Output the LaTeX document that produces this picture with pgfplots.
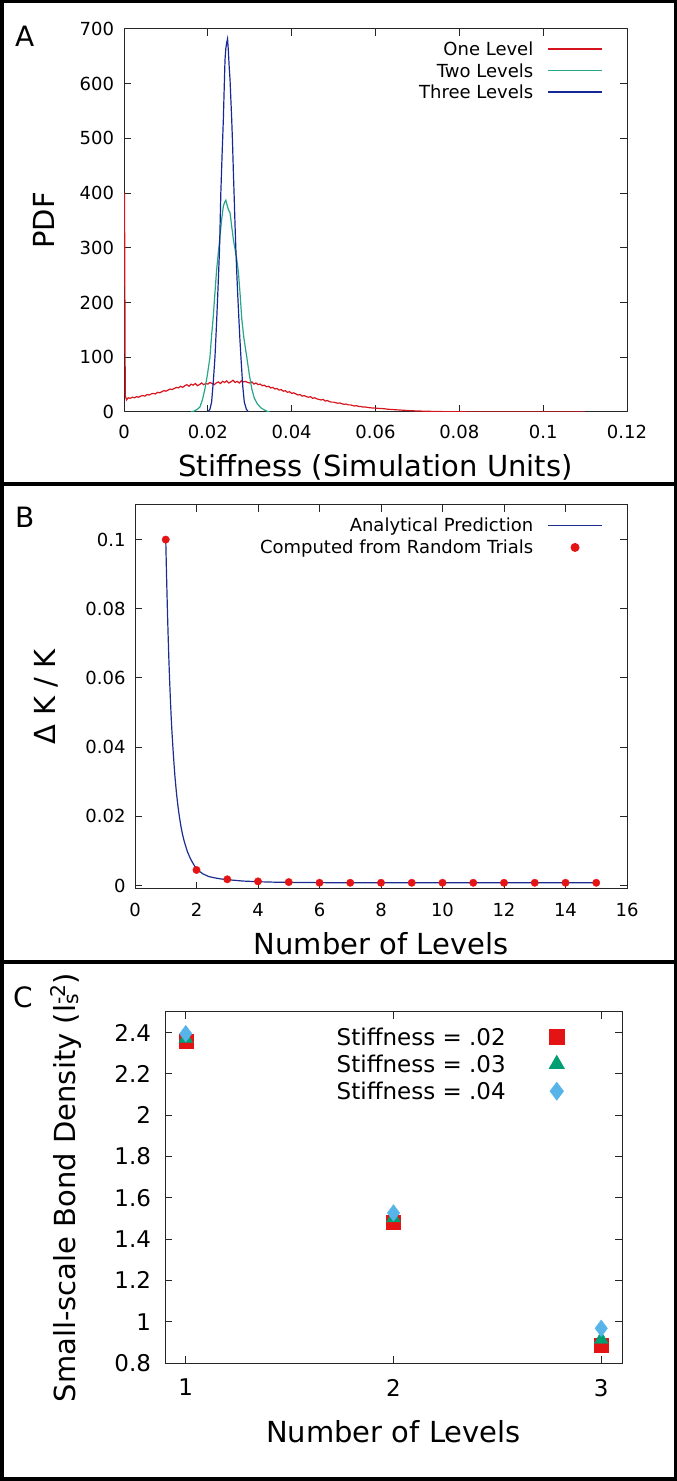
\documentclass[border=0pt]{standalone}
\usepackage{fontspec}
\setmainfont{DejaVu Sans}
\usepackage{pgfplots}
\pgfplotsset{compat=1.18}
\definecolor{aRed}{RGB}{215,20,30}
\definecolor{aGreen}{RGB}{38,166,134}
\definecolor{aBlue}{RGB}{22,40,150}
\definecolor{bBlue}{RGB}{28,45,143}
\definecolor{cRed}{RGB}{229,20,20}
\definecolor{cGreen}{RGB}{0,158,115}
\definecolor{cBlue}{RGB}{86,180,233}
\pgfplotsset{
  legend image code/.code={\draw[mark repeat=2,mark phase=2,#1,line width=1.5pt] plot coordinates {(0pt,0pt) (27pt,0pt) (54pt,0pt)};},
  base/.style={
    scale only axis, anchor=south west,
    axis line style={line width=1pt, black!85},
    major tick style={line width=1pt, black!85},
    major tick length=7pt, tick align=inside,
    scaled ticks=false,
    legend plot pos=right,
    legend cell align=right,
  },
}
\begin{document}
\begin{tikzpicture}
\useasboundingbox (0pt,0pt) rectangle (677pt,1481pt);
% ---------------- Panel A ----------------
\begin{axis}[base,
  at={(124pt,1069pt)}, width=503pt, height=383pt,
  xmin=0, xmax=0.12, ymin=0, ymax=700,
  xtick={0,0.02,0.04,0.06,0.08,0.1,0.12},
  xticklabels={0,0.02,0.04,0.06,0.08,0.1,0.12},
  ytick={0,100,200,300,400,500,600,700},
  yticklabels={0,100,200,300,400,500,600,700},
  tick label style={font=\fontsize{18}{20}\selectfont},
  xticklabel style={yshift=-10pt},
  yticklabel style={xshift=-6.5pt},
  xlabel={Stiffness (Simulation Units)},
  ylabel={PDF},
  label style={font=\fontsize{29}{33}\selectfont},
  xlabel style={at={(axis description cs:0.5,-0.1697)}, anchor=base},
  ylabel style={at={(axis description cs:-0.1372,0.5)}, anchor=base},
  legend style={at={(axis description cs:0.9523,0.9758)}, anchor=north east,
    draw=none, fill=none, inner sep=0pt, column sep=14pt, row sep=0pt,
    font=\fontsize{18}{21}\selectfont,
    nodes={inner sep=0pt, text height=17.3pt, text depth=4.2pt}},
]
\addplot[color=aRed, line width=1.2pt] coordinates {
(0.00012,400) (0.0003,30) (0.0006,22) (0.001,26) (0.0015,25) (0.002,27) (0.0025,26) (0.003,28) (0.0035,27) (0.004,29)
(0.0045,30) (0.005,29) (0.0055,32) (0.006,31) (0.0065,33) (0.007,34) (0.0075,33) (0.008,36) (0.0085,35) (0.009,37)
(0.0095,39) (0.010,38) (0.0105,40) (0.011,42) (0.0115,41) (0.012,43) (0.0125,45) (0.013,44) (0.0135,47) (0.014,45)
(0.0145,48) (0.015,50) (0.0155,47) (0.016,51) (0.0165,49) (0.017,52) (0.0175,48) (0.018,50) (0.0185,53) (0.019,50)
(0.0195,52) (0.020,51) (0.0205,54) (0.021,52) (0.0215,50) (0.022,53) (0.0225,55) (0.023,52) (0.0235,56) (0.024,54)
(0.0245,57) (0.025,53) (0.0255,55) (0.026,58) (0.0265,54) (0.027,56) (0.0275,53) (0.028,57) (0.0285,55) (0.029,56)
(0.0295,54) (0.030,53) (0.0305,55) (0.031,51) (0.0315,53) (0.032,50) (0.0325,51) (0.033,48) (0.0335,49) (0.034,46)
(0.0345,47) (0.035,44) (0.0355,45) (0.036,42) (0.0365,43) (0.037,40) (0.0375,41) (0.038,38) (0.0385,39) (0.039,36)
(0.0395,37) (0.040,34) (0.0405,35) (0.041,33) (0.0415,31) (0.042,32) (0.0425,29) (0.043,30) (0.0435,28) (0.044,27)
(0.0445,28) (0.045,25) (0.0455,26) (0.046,24) (0.0465,23) (0.047,22) (0.0475,23) (0.048,20) (0.0485,21) (0.049,19)
(0.0495,18) (0.050,18) (0.0505,17) (0.051,16) (0.0515,16.5) (0.052,15) (0.0525,14) (0.053,14.5) (0.0535,13) (0.054,13)
(0.0545,12) (0.055,11) (0.0555,11.5) (0.056,10) (0.0565,10) (0.057,9) (0.0575,9.2) (0.058,8.5) (0.059,7.5) (0.060,7)
(0.061,6.5) (0.062,6) (0.063,5) (0.064,4.5) (0.065,4) (0.066,3.5) (0.067,3) (0.068,2.5) (0.069,2.2) (0.070,1.8)
(0.072,1.4) (0.074,1) (0.076,0.7) (0.078,0.5) (0.080,0.3) (0.085,0.15) (0.090,0.1) (0.095,0.05) (0.100,0.02) (0.105,0.01) (0.110,0)
};
\addlegendentry{One Level}
\addplot[color=aGreen, line width=1.2pt] coordinates {
(0.0160,0) (0.0168,2) (0.0175,5) (0.0181,9) (0.0187,22) (0.0193,42) (0.0199,68) (0.0205,100) (0.0209,140) (0.0213,175)
(0.0217,218) (0.0221,260) (0.0225,291) (0.0229,321) (0.0233,352) (0.0237,376) (0.0240,383) (0.0243,387) (0.0246,378)
(0.0249,370) (0.0253,364) (0.0257,339) (0.0261,315) (0.0265,297) (0.0269,279) (0.0273,255) (0.0277,215) (0.0281,170)
(0.0286,135) (0.0293,100) (0.0299,68) (0.0305,42) (0.0311,25) (0.0318,15) (0.0326,8) (0.0334,4) (0.0342,1) (0.0348,0)
};
\addlegendentry{Two Levels}
\addplot[color=aBlue, line width=1.2pt] coordinates {
(0.0200,0) (0.0205,5) (0.0209,18) (0.0213,55) (0.0217,100) (0.0221,165) (0.0225,240) (0.0228,300) (0.0231,400)
(0.0234,470) (0.0237,534) (0.0239,590) (0.0241,644) (0.0243,665) (0.0245,675) (0.0247,682) (0.0249,660) (0.0251,630)
(0.0253,607) (0.0255,570) (0.0257,534) (0.0259,490) (0.0261,437) (0.0263,390) (0.0265,339) (0.0267,295) (0.0269,255)
(0.0271,220) (0.0273,187) (0.0276,140) (0.0279,100) (0.0283,50) (0.0287,18) (0.0292,5) (0.0297,0)
};
\addlegendentry{Three Levels}
\end{axis}
% ---------------- Panel B ----------------
\begin{axis}[base,
  at={(135pt,592pt)}, width=492pt, height=384pt,
  xmin=0, xmax=16, ymin=-0.001, ymax=0.11,
  xtick={0,2,4,6,8,10,12,14,16},
  xticklabels={0,2,4,6,8,10,12,14,16},
  ytick={0,0.02,0.04,0.06,0.08,0.1},
  yticklabels={0,0.02,0.04,0.06,0.08,0.1},
  tick label style={font=\fontsize{18}{20}\selectfont},
  xticklabel style={yshift=-11pt},
  yticklabel style={xshift=-6pt},
  xlabel={Number of Levels},
  ylabel={Δ K / K},
  label style={font=\fontsize{29}{33}\selectfont},
  xlabel style={at={(axis description cs:0.5,-0.1693)}, anchor=base},
  ylabel style={at={(axis description cs:-0.1626,0.5)}, anchor=base},
  legend style={at={(axis description cs:0.9512,0.9759)}, anchor=north east,
    draw=none, fill=none, inner sep=0pt, column sep=14pt, row sep=0pt,
    font=\fontsize{18}{21}\selectfont,
    nodes={inner sep=0pt, text height=17.5pt, text depth=4.5pt}},
]
\addplot[color=bBlue, line width=1.2pt] coordinates {
(1,0.1) (1.025,0.090) (1.05,0.081) (1.075,0.073) (1.1,0.0658) (1.125,0.0595) (1.15,0.054) (1.175,0.049) (1.2,0.0447)
(1.25,0.0375) (1.3,0.0314) (1.35,0.0266) (1.4,0.0227) (1.45,0.0195) (1.5,0.0168) (1.55,0.0146) (1.6,0.0128)
(1.7,0.0099) (1.8,0.0078) (1.9,0.0062) (2.0,0.0048) (2.2,0.0034) (2.4,0.0026) (2.6,0.0022) (2.8,0.0019) (3,0.0017)
(3.5,0.0013) (4,0.0011) (4.5,0.00098) (5,0.0009) (6,0.00084) (7,0.00081) (8,0.0008) (10,0.0008) (12,0.0008) (15,0.0008)
};
\addlegendentry{Analytical Prediction}
\addplot[only marks, mark=*, mark size=3.7pt, color=cRed] coordinates {
(1,0.1) (2,0.0045) (3,0.0018) (4,0.0012) (5,0.0010) (6,0.0008) (7,0.0008) (8,0.0008) (9,0.0008) (10,0.0008)
(11,0.0008) (12,0.0008) (13,0.0008) (14,0.0008) (15,0.0008)
};
\addlegendentry{Computed from Random Trials}
\end{axis}
% ---------------- Panel C ----------------
\begin{axis}[base,
  at={(165pt,118pt)}, width=457pt, height=351pt,
  xmin=0.9, xmax=3.1, ymin=0.8, ymax=2.5,
  xtick={1,2,3}, xticklabels={1,2,3},
  ytick={0.8,1,1.2,1.4,1.6,1.8,2,2.2,2.4},
  yticklabels={0.8,1,1.2,1.4,1.6,1.8,2,2.2,2.4},
  tick label style={font=\fontsize{23}{26}\selectfont},
  xticklabel style={yshift=-12.5pt},
  yticklabel style={xshift=-10.5pt},
  xlabel={Number of Levels},
  ylabel={Small-scale Bond Density (l\rlap{\textsubscript{s}}\textsuperscript{-2})},
  label style={font=\fontsize{29}{33}\selectfont},
  xlabel style={at={(axis description cs:0.5,-0.2251)}, anchor=base},
  ylabel style={at={(axis description cs:-0.1969,0.5)}, anchor=base},
  legend cell align=left,
  legend style={at={(axis description cs:0.873,0.9672)}, anchor=north east,
    draw=none, fill=none, inner sep=0pt, column sep=44pt, row sep=0pt,
    font=\fontsize{23}{27}\selectfont,
    nodes={inner sep=0pt, text height=21.9pt, text depth=5.1pt}},
]
\addplot[only marks, mark=square*, mark size=7pt, color=cRed] coordinates {(1,2.357) (2,1.484) (3,0.887)};
\addlegendentry{Stiffness = .02}
\addplot[only marks, mark=triangle*, mark size=8pt, color=cGreen] coordinates {(1,2.372) (2,1.503) (3,0.915)};
\addlegendentry{Stiffness = .03}
\addplot[only marks, mark=diamond*, mark size=8.3pt, color=cBlue] coordinates {(1,2.395) (2,1.527) (3,0.968)};
\addlegendentry{Stiffness = .04}
\end{axis}
% ---------------- Frames and panel letters ----------------
\draw[line width=3.5pt] (1.75pt,1.75pt) rectangle (675.25pt,1479.25pt);
\draw[line width=3.5pt] (0pt,997pt) -- (677pt,997pt);
\draw[line width=3.5pt] (0pt,519pt) -- (677pt,519pt);
\node[anchor=base west, inner sep=0pt, font=\fontsize{28}{30}\selectfont] at (15pt,1434pt) {A};
\node[anchor=base west, inner sep=0pt, font=\fontsize{28}{30}\selectfont] at (15pt,953pt) {B};
\node[anchor=base west, inner sep=0pt, font=\fontsize{28}{30}\selectfont] at (13pt,473pt) {C};
\end{tikzpicture}
\end{document}
